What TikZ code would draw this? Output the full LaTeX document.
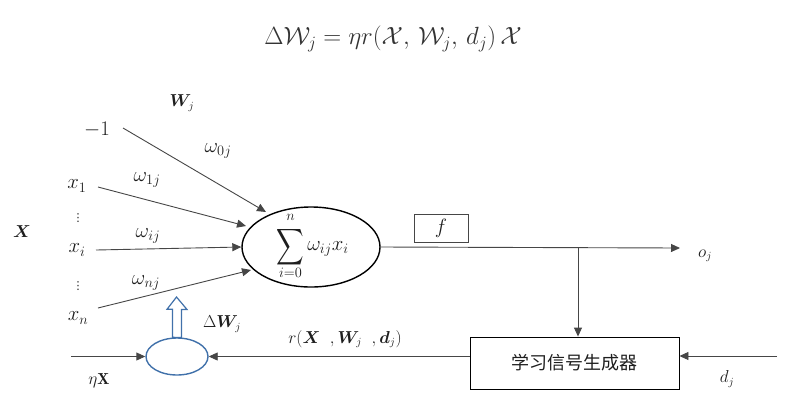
\documentclass[tikz,border=0pt]{standalone}
\usepackage{amsmath,amssymb,bm}
\usepackage{fontspec}
\newfontfamily\cjk{Noto Sans CJK SC}
\newfontfamily\dejavu{DejaVu Sans}
\usetikzlibrary{arrows.meta,shapes.geometric,calc}
\definecolor{lineg}{RGB}{70,70,70}
\definecolor{txtg}{RGB}{30,30,30}
\definecolor{blueo}{RGB}{65,113,170}
\tikzset{
  lab/.style={inner sep=0pt, text=txtg, font=\fontsize{16}{18}\selectfont},
  biglab/.style={inner sep=0pt, text=txtg, font=\fontsize{20}{22}\selectfont},
  smlab/.style={inner sep=0pt, text=txtg, font=\fontsize{14}{16}\selectfont},
  dotlab/.style={inner sep=0pt, text=txtg, font=\dejavu\fontsize{11}{12}\selectfont},
  conn/.style={draw=lineg, line width=0.9pt, -{Triangle[length=9pt,width=8pt]}},
}
\begin{document}
\begin{tikzpicture}[x=1pt,y=-1pt]
\useasboundingbox (0,0) rectangle (805,416);
% top formula
\node[lab, font=\fontsize{25}{27}\selectfont, text=black!80] (eq) at (393,39) {$\Delta\mathcal{W}_j=\eta r(\mathcal{X},\,\mathcal{W}_j,\,d_j)\,\mathcal{X}$};
% neuron
\node[draw=black, line width=1.4pt, ellipse, minimum width=138pt, minimum height=80pt, inner sep=0pt] (sum) at (311,247) {};
\node[inner sep=0pt, text=txtg, font=\fontsize{22}{24}\selectfont] (sigma) at (290.5,247) {\scalebox{0.87}[1.15]{$\displaystyle\sum$}};
\node[smlab] (sup) at (290.5,217) {$n$};
\node[smlab] (sub) at (290.5,273) {$i{=}0$};
\node[biglab] (term) at (328,249) {$\omega_{ij}x_i$};
% inputs
\node[biglab] (m1) at (97,130) {$-1$};
\node[biglab] (x1) at (77,186) {$x_1$};
\node[dotlab] (d1) at (78,218) {⋮};
\node[biglab] (xi) at (77,250) {$x_i$};
\node[dotlab] (d2) at (78,286) {⋮};
\node[biglab] (xn) at (78,318) {$x_n$};
\node[lab] (X) at (22,232) {$\bm{X}$};
\node[lab] (Wj) at (182,103) {$\bm{W}_{j}$};
\node[biglab] (w0) at (218,151) {$\omega_{0j}$};
\node[biglab] (w1) at (147,180) {$\omega_{1j}$};
\node[biglab] (wi) at (148,236) {$\omega_{ij}$};
\node[biglab] (wn) at (146,283) {$\omega_{nj}$};
\coordinate (s0) at (123,128);
\coordinate (s1) at (98,187);
\coordinate (si) at (96,250);
\coordinate (sn) at (98,308);
\draw[conn] (s0) -- ($(sum.center)+(-45,-35)$);
\draw[conn] (s1) -- ($(sum.center)+(-65,-21)$);
\draw[conn] (si) -- (sum.west);
\draw[conn] (sn) -- ($(sum.center)+(-60,23)$);
% output
\node[draw=lineg, line width=0.9pt, minimum width=54pt, minimum height=28pt, inner sep=0pt, biglab] (f) at (441,228) {$f$};
\coordinate (oend) at (680,248);
\coordinate (br) at (578,248);
\draw[conn] (sum.east) -- (oend);
\node[lab] (oj) at (705,256) {$o_j$};
% learning signal generator
\node[draw=black, line width=0.9pt, minimum width=209pt, minimum height=52pt, inner sep=0pt, font=\cjk\fontsize{18}{20}\selectfont, text=txtg] (gen) at (574.5,363) {学习信号生成器};
\draw[conn] (br) -- (br |- gen.north);
\coordinate (dstart) at (777,356);
\draw[conn] (dstart) -- (gen.east |- dstart);
\node[lab] (dj) at (727,379) {$d_j$};
% update ellipse
\node[draw=blueo, line width=1.4pt, ellipse, minimum width=62pt, minimum height=37pt, inner sep=0pt] (upd) at (177,356.5) {};
\draw[conn] (gen.west |- upd.east) -- (upd.east);
\coordinate (estart) at (71,356.5);
\draw[conn] (estart) -- (upd.west);
\node[lab] (eta) at (99,381) {$\eta\mathbf{X}$};
\node[lab] (rlab) at (345,339) {$r(\bm{X}\ \ ,\bm{W}_{j}\ \ ,\bm{d}_j)$};
\node[lab] (dW) at (222,324) {$\Delta\bm{W}_{j}$};
% hollow block arrow
\draw[draw=blueo, line width=1.2pt, fill=white, line join=miter]
  (upd.north) ++(-4.5,0) -- ++(0,-28) -- ++(-5.5,0) -- (176.5,297) -- (187,309.5) -- ++(-5.5,0) -- ++(0,28) -- cycle;
\end{tikzpicture}
\end{document}
